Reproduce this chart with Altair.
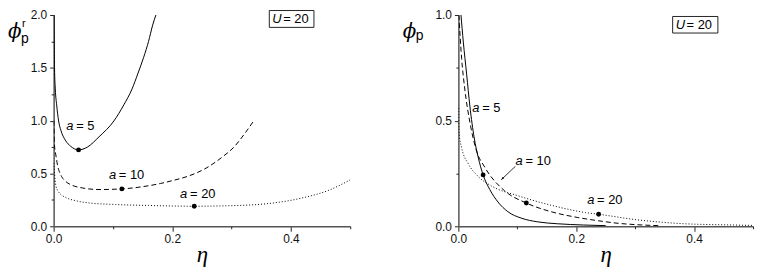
import altair as alt
import pandas as pd

# ---------------- data ----------------
# left panel: phi_p^r versus eta, U = 20
left_a5_eta = [0.0008, 0.0015, 0.0028, 0.0051, 0.0084, 0.0123, 0.0196, 0.029, 0.0419, 0.057,
               0.0765, 0.1016, 0.1183, 0.1322, 0.1423, 0.1518, 0.160, 0.1669, 0.1724]
left_a5_phi = [2.0, 1.5, 1.30, 1.149, 0.997, 0.907, 0.816, 0.756, 0.723, 0.75,
               0.847, 0.997, 1.149, 1.30, 1.45, 1.60, 1.75, 1.904, 2.0]
left_a10_eta = [0.0004, 0.0012, 0.004, 0.0067, 0.0123, 0.0207, 0.0318, 0.0486, 0.0765, 0.115,
                0.15, 0.18, 0.20, 0.227, 0.255, 0.283, 0.305, 0.322, 0.3376]
left_a10_phi = [1.0, 0.786, 0.665, 0.575, 0.484, 0.423, 0.387, 0.363, 0.348, 0.354,
                0.375, 0.405, 0.432, 0.475, 0.544, 0.65, 0.756, 0.877, 1.0]
left_a20_eta = [0.0004, 0.0012, 0.004, 0.0095, 0.0207, 0.0374, 0.0597, 0.1044, 0.16, 0.237,
                0.311, 0.3665, 0.422, 0.467, 0.5]
left_a20_phi = [0.6, 0.529, 0.378, 0.317, 0.272, 0.242, 0.221, 0.206, 0.197, 0.19,
                0.197, 0.218, 0.272, 0.348, 0.44]
left_dot_eta = [0.042, 0.115, 0.237]
left_dot_phi = [0.723, 0.354, 0.19]
left_lab_eta = [0.0213, 0.0932, 0.2132]
left_lab_phi = [0.949, 0.487, 0.31]

# right panel: phi_p versus eta, U = 20
right_a5_eta = [0.0044, 0.0084, 0.014, 0.0195, 0.0269, 0.0336, 0.042, 0.0531, 0.0672, 0.084,
                0.1064, 0.1345, 0.168, 0.2128, 0.25]
right_a5_phi = [1.0, 0.872, 0.72, 0.569, 0.418, 0.327, 0.243, 0.175, 0.115, 0.069,
                0.039, 0.021, 0.012, 0.006, 0.003]
right_a10_eta = [0.0008, 0.0055, 0.0111, 0.0195, 0.0308, 0.0447, 0.0784, 0.1153, 0.1568, 0.2017,
                 0.238, 0.2716, 0.30, 0.34]
right_a10_phi = [1.0, 0.795, 0.645, 0.493, 0.357, 0.28, 0.168, 0.110, 0.0695, 0.042,
                 0.026, 0.014, 0.008, 0.003]
right_a20_eta = [0.0005, 0.001, 0.0055, 0.0168, 0.0336, 0.056, 0.1008, 0.157, 0.2156, 0.238,
                 0.2997, 0.3837, 0.4677, 0.5]
right_a20_phi = [0.56, 0.448, 0.372, 0.296, 0.236, 0.191, 0.145, 0.10, 0.065, 0.057,
                 0.032, 0.012, 0.006, 0.004]
right_dot_eta = [0.042, 0.1153, 0.238]
right_dot_phi = [0.243, 0.110, 0.057]
right_lab_eta = [0.0235, 0.0971, 0.2185]
right_lab_phi = [0.561, 0.311, 0.1225]
right_arrow_eta = [0.0968, 0.0728]
right_arrow_phi = [0.284, 0.2205]

a_values = ["5", "10", "20"]
U_text = "= 20"
x_major = [0, 0.2, 0.4]
x_minor = [0.1, 0.3, 0.5]
left_y_major = [0, 0.5, 1.0, 1.5, 2.0]
left_y_minor = [0.25, 0.75, 1.25, 1.75]
right_y_major = [0, 0.5, 1.0]
right_y_minor = [0.25, 0.75]

# ---------------- style ----------------
SANS = "Liberation Sans"
SERIF = "Liberation Serif"
PHI_FONT = "DejaVu Serif"
AXC = "#555555"
TKC = "#222222"
DASH = [5, 3]
DOT = [1, 2]
H = 213


def panel(curves, dots, labs, ymax, ymaj, ymin, W, phi_pos, sub, sup, box, arrow=None):
    xsc = alt.Scale(domain=[0, 0.5], nice=False, zero=False)
    ysc = alt.Scale(domain=[0, ymax], nice=False, zero=False)
    common = dict(grid=False, domainColor=AXC, domainWidth=1.5, tickColor=TKC, tickWidth=1,
                  labelFont=SANS, labelFontSize=12, labelColor="#111111",
                  labelFlush=False, labelOverlap=False)
    xa = alt.Axis(values=x_major, format=".1f", tickSize=5, labelPadding=2, title="η",
                  titleFont=SERIF, titleFontStyle="italic", titleFontWeight="normal",
                  titleFontSize=23, titleColor="black", titlePadding=0, orient="bottom", **common)
    ya = alt.Axis(values=ymaj, format=".1f", tickSize=4, labelPadding=3, title=None,
                  orient="left", **common)
    xm = alt.Axis(values=x_minor, labels=False, domain=False, tickSize=2.5, title=None,
                  grid=False, tickColor=TKC, orient="bottom")
    ym = alt.Axis(values=ymin, labels=False, domain=False, tickSize=2.5, title=None,
                  grid=False, tickColor=TKC, orient="left")

    def xy(xaxis=None, yaxis=None):
        return dict(x=alt.X("eta:Q", scale=xsc, axis=xaxis),
                    y=alt.Y("phi:Q", scale=ysc, axis=yaxis))

    layers = []
    for i, (ex, ph, dash) in enumerate(curves):
        kw = dict(color="black", strokeWidth=1, interpolate="monotone", clip=True)
        if dash is not None:
            kw["strokeDash"] = dash
        ch = alt.Chart(pd.DataFrame({"eta": ex, "phi": ph})).mark_line(**kw)
        if i == 0:
            ch = ch.encode(**xy(xa, ya))
        else:
            ch = ch.encode(**xy())
        layers.append(ch)

    layers.append(alt.Chart(pd.DataFrame({"eta": dots[0], "phi": dots[1]}))
                  .mark_circle(color="black", size=24, opacity=1).encode(**xy(xm, ym)))

    lab_df = pd.DataFrame({"eta": labs[0], "phi": labs[1], "eq": ["= " + v for v in a_values]})
    layers.append(alt.Chart(lab_df).mark_text(text="a", font=SANS, fontSize=13, fontStyle="italic",
                                              align="left", baseline="middle", color="black")
                  .encode(**xy()))
    layers.append(alt.Chart(lab_df).mark_text(font=SANS, fontSize=13, align="left",
                                              baseline="middle", dx=10, color="black")
                  .encode(text="eq:N", **xy()))

    if arrow is not None:
        adf = pd.DataFrame({"eta": [arrow[0][0]], "phi": [arrow[1][0]],
                            "eta2": [arrow[0][1]], "phi2": [arrow[1][1]]})
        layers.append(alt.Chart(adf).mark_rule(color="black", strokeWidth=0.8).encode(
            x=alt.X("eta:Q", scale=xsc, axis=None), y=alt.Y("phi:Q", scale=ysc, axis=None),
            x2="eta2:Q", y2="phi2:Q"))
        hdf = pd.DataFrame({"eta": [arrow[0][1]], "phi": [arrow[1][1]]})
        layers.append(alt.Chart(hdf).mark_point(shape="M0,0L-0.35,1L0.35,1Z", filled=True,
                                                color="black", size=40, angle=224, opacity=1)
                      .encode(**xy()))

    one = pd.DataFrame({"k": [0]})
    bx0, bx1, by0, by1 = box
    layers.append(alt.Chart(one).mark_rect(fill="white", stroke="#222222", strokeWidth=1).encode(
        x=alt.value(bx0), x2=alt.value(bx1), y=alt.value(by0), y2=alt.value(by1)))
    layers.append(alt.Chart(one).mark_text(text="U", font=SANS, fontSize=13, fontStyle="italic",
                                           align="left", baseline="middle", color="black")
                  .encode(x=alt.value(bx0 + 3), y=alt.value((by0 + by1) / 2)))
    layers.append(alt.Chart(one).mark_text(text=U_text, font=SANS, fontSize=13, align="left",
                                           baseline="middle", color="black")
                  .encode(x=alt.value(bx0 + 14), y=alt.value((by0 + by1) / 2)))

    # y-axis title: phi with sub/superscript
    px, py = phi_pos
    layers.append(alt.Chart(one).mark_text(text="ϕ", font=PHI_FONT, fontSize=20, fontStyle="italic",
                                           align="left", baseline="alphabetic", color="black")
                  .encode(x=alt.value(px), y=alt.value(py)))
    layers.append(alt.Chart(one).mark_text(text="p", font=SANS, fontSize=sub[2], align="left",
                                           baseline="alphabetic", color="black")
                  .encode(x=alt.value(sub[0]), y=alt.value(sub[1])))
    if sup is not None:
        layers.append(alt.Chart(one).mark_text(text="r", font=SANS, fontSize=11, align="left",
                                               baseline="alphabetic", color="black")
                      .encode(x=alt.value(sup[0]), y=alt.value(sup[1])))

    return alt.layer(*layers).resolve_axis(x="independent", y="independent").properties(
        width=W, height=H)


left = panel(
    [(left_a5_eta, left_a5_phi, None), (left_a10_eta, left_a10_phi, DASH),
     (left_a20_eta, left_a20_phi, DOT)],
    (left_dot_eta, left_dot_phi), (left_lab_eta, left_lab_phi),
    2.0, left_y_major, left_y_minor, 299,
    phi_pos=(-46, 23), sub=(-33, 28, 14), sup=(-32, 12.5),
    box=(217.4, 262.4, -4.5, 12.5))

right = panel(
    [(right_a5_eta, right_a5_phi, None), (right_a10_eta, right_a10_phi, DASH),
     (right_a20_eta, right_a20_phi, DOT)],
    (right_dot_eta, right_dot_phi), (right_lab_eta, right_lab_phi),
    1.0, right_y_major, right_y_minor, 297,
    phi_pos=(-56, 23), sub=(-43, 25, 14), sup=None,
    box=(216, 261.6, 1.5, 18.2),
    arrow=(right_arrow_eta, right_arrow_phi))

chart = alt.hconcat(left, right, spacing=109, bounds="flush").properties(
    padding=0, background="white"
).configure_view(stroke=None)

chart.save("out.html", embed_options={"renderer": "svg", "actions": False})
